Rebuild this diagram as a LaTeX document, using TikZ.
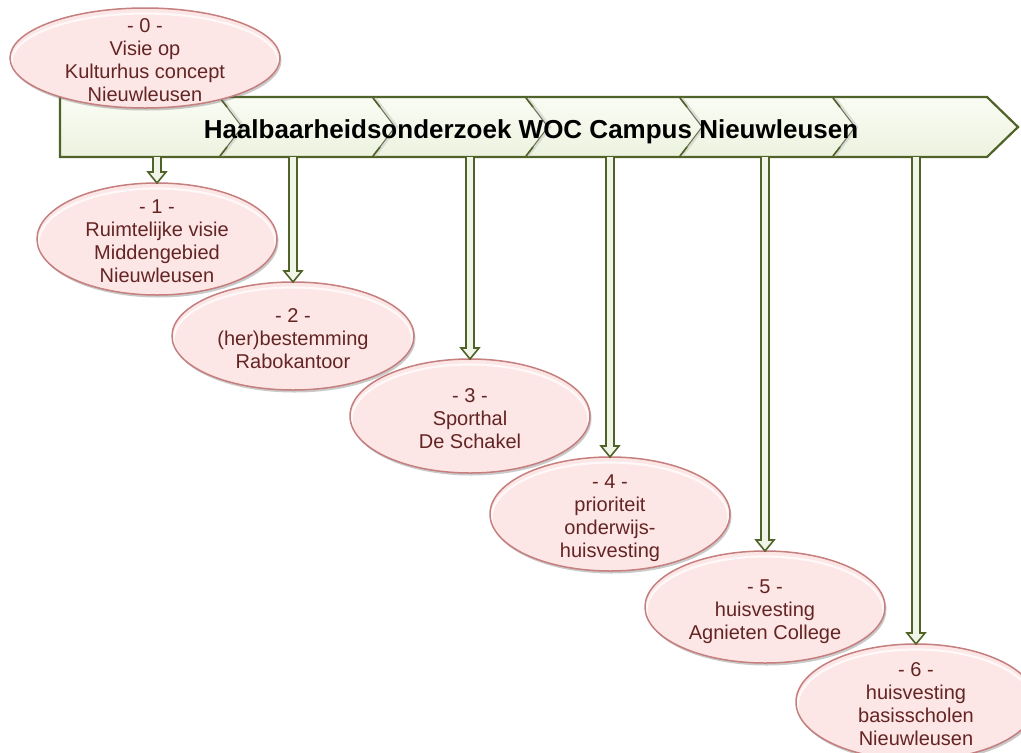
\documentclass[tikz,border=0pt]{standalone}
\usepackage{fontspec}
\setmainfont{Liberation Sans}
\usetikzlibrary{shapes.geometric,calc,shadows}
\definecolor{bargreen}{HTML}{4F6228}
\definecolor{barfilltop}{HTML}{FAFCF4}
\definecolor{barfillbot}{HTML}{EDF2DF}
\definecolor{arrowfill}{HTML}{F1F5E8}
\definecolor{ellfill}{HTML}{FDE6E6}
\definecolor{ellline}{HTML}{C47F7E}
\definecolor{elltext}{HTML}{632523}
\newcommand{\elltxt}[1]{\raisebox{-10pt}[0pt][0pt]{\makebox[0pt]{\begin{tabular}{@{}c@{}}#1\end{tabular}}}}
\tikzset{
  ellnode/.style={ellipse, draw=ellline, line width=1.5pt, fill=ellfill,
    minimum width=240pt, minimum height=114pt, inner sep=0pt, outer sep=0pt,
    text=elltext, font=\fontsize{20}{23}\selectfont,
    drop shadow={shadow xshift=1.5pt, shadow yshift=-2.5pt, opacity=0.35, fill=black!60},
    path picture={
      \path let \p1=(path picture bounding box.north east),
                \p2=(path picture bounding box.center) in
        [draw=white, line width=2.2pt, opacity=0.75]
          ([yshift=-4pt]\p2) ellipse ({\x1-\x2-1.5pt} and {\y1-\y2-1.5pt});
    }},
  blockarrow/.style={draw=bargreen, line width=1.6pt, fill=arrowfill, line join=miter,
    to path={let \p1=(\tikztostart), \p2=(\tikztotarget) in
      (\x1-4pt,\y1) -- (\x1-4pt,\y2+11pt) -- (\x1-9pt,\y2+11pt) -- (\x1,\y2)
      -- (\x1+9pt,\y2+11pt) -- (\x1+4pt,\y2+11pt) -- (\x1+4pt,\y1)}},
  chevshade/.style={draw=black!25, line width=2.5pt, opacity=0.45},
  chevline/.style={draw=bargreen!55!gray, line width=1pt},
  chevend/.style={draw=bargreen, line width=1.6pt}
}
\begin{document}
\begin{tikzpicture}[x=1pt,y=-1pt]
\useasboundingbox (0,0) rectangle (1021,753);
% main bar
\path[draw=bargreen, line width=2.2pt, top color=barfilltop, bottom color=barfillbot, line join=miter]
  (60,97) -- (987,97) -- (1018,127) -- (987,157) -- (60,157) -- cycle;
\foreach \cx in {220,373,526,680,833}{
  \draw[chevshade] (\cx+2,98) -- (\cx+24,127) -- (\cx+2,156);
  \draw[chevline] (\cx,98) -- (\cx+22,127) -- (\cx,156);
  \draw[chevend] (\cx,98) -- (\cx+7,107);
  \draw[chevend] (\cx,156) -- (\cx+7,147);
}
\node[font=\fontsize{26}{30}\selectfont\bfseries, text=black, inner sep=0pt] (title) at (531,132)
  {Haalbaarheidsonderzoek WOC Campus Nieuwleusen};
% bar attachment points
\coordinate (s1) at (157,157);
\coordinate (s2) at (293,157);
\coordinate (s3) at (470,157);
\coordinate (s4) at (610,157);
\coordinate (s5) at (765,157);
\coordinate (s6) at (916,157);
% ellipses
\node[ellnode, minimum width=270pt, minimum height=100pt] (e0) at (145,58)
  {\elltxt{- 0 -\\Visie op\\Kulturhus concept\\Nieuwleusen}};
\node[ellnode, minimum height=112pt] (e1) at (157,239)
  {\elltxt{- 1 -\\Ruimtelijke visie\\Middengebied\\Nieuwleusen}};
\node[ellnode, minimum width=242pt, minimum height=108pt] (e2) at (293,336)
  {\elltxt{- 2 -\\(her)bestemming\\Rabokantoor}};
\node[ellnode] (e3) at (470,416)
  {\elltxt{- 3 -\\Sporthal\\De Schakel}};
\node[ellnode] (e4) at (610,514)
  {\elltxt{- 4 -\\prioriteit\\onderwijs-\\huisvesting}};
\node[ellnode, minimum height=112pt] (e5) at (765,607)
  {\elltxt{- 5 -\\huisvesting\\Agnieten College}};
\node[ellnode, minimum height=116pt] (e6) at (916,702)
  {\elltxt{- 6 -\\huisvesting\\basisscholen\\Nieuwleusen}};
% arrows
\draw[blockarrow] (s1) to (e1.north);
\draw[blockarrow] (s2) to (e2.north);
\draw[blockarrow] (s3) to (e3.north);
\draw[blockarrow] (s4) to (e4.north);
\draw[blockarrow] (s5) to (e5.north);
\draw[blockarrow] (s6) to (e6.north);
\end{tikzpicture}
\end{document}
